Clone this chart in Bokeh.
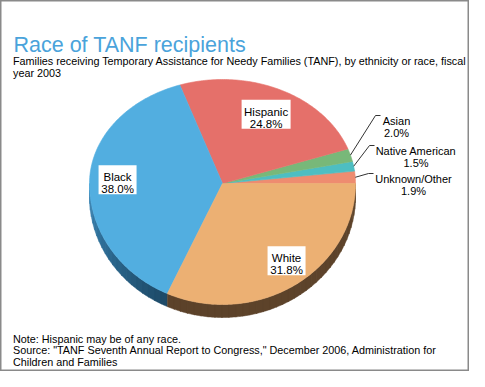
import numpy as np
from bokeh.plotting import figure
from bokeh.models import Range1d
from bokeh.embed import file_html
from bokeh.resources import INLINE
from bokeh.core.properties import value

# ---------------- data ----------------
categories = ["Unknown/Other", "Native American", "Asian", "Hispanic", "Black", "White"]
shares = [1.9, 1.5, 2.0, 24.8, 38.0, 31.8]
pct_labels = ["1.9%", "1.5%", "2.0%", "24.8%", "38.0%", "31.8%"]

title_text = "Race of TANF recipients"
subtitle_lines = [
    "Families receiving Temporary Assistance for Needy Families (TANF), by ethnicity or race, fiscal",
    "year 2003",
]
note_lines = [
    "Note: Hispanic may be of any race.",
    "Source: \"TANF Seventh Annual Report to Congress,\" December 2006, Administration for",
    "Children and Families",
]

# ---------------- styles / layout ----------------
colors = ["#EE8C70", "#4DBEC2", "#78B879", "#E5706A", "#52AEE0", "#ECB073"]
side_colors = [("#E07A60", "#E07A60"), ("#3B9EA2", "#3B9EA2"), ("#5E9A5F", "#5E9A5F"),
               ("#B5524D", "#B5524D"), ("#3A86B6", "#1D4966"), ("#5C422A", "#5E442B")]
FONT = value("Liberation Sans")
CX, CY = 222.0, 183.0
RX, RY_UP, RY_DN = 133.0, 104.0, 121.0
DEPTH = 13.0

# inside labels: x radius factor, y radius factor, box width
inside = {3: (0.75, 0.74, 49), 4: (0.79, 0.74, 38), 5: (0.89, 0.76, 38)}
# outside labels: elbow (x, y) and text centre x
outside = {2: (375, 115, 396), 1: (369, 145, 415.5), 0: (368, 173, 413)}


def ell(t_deg):
    t = np.radians(t_deg)
    s = np.sin(t)
    ry = np.where(s >= 0, RY_UP, RY_DN)
    return CX + RX * np.cos(t), CY - ry * s


def hex2rgb(h):
    return np.array([int(h[i:i + 2], 16) for i in (1, 3, 5)], dtype=float)


def rgb2hex(c):
    return "#%02x%02x%02x" % tuple(int(round(v)) for v in c)


p = figure(width=469, height=371, x_range=Range1d(0, 469), y_range=Range1d(371, 0),
           output_backend="svg", toolbar_location=None, min_border=0)
p.axis.visible = False
p.grid.visible = False
p.background_fill_color = "white"
p.border_fill_color = "white"
p.outline_line_color = "#8a8a8a"
p.outline_line_width = 2

total = float(sum(shares))
bounds = np.concatenate([[0.0], np.cumsum(shares) / total * 360.0])

# ---- 3D side (lower half only) ----
side_xs, side_ys, side_cs = [], [], []
for i in range(len(shares)):
    a0, a1 = max(bounds[i], 180.0), min(bounds[i + 1], 360.0)
    if a1 <= a0:
        continue
    nseg = max(1, int((a1 - a0) / 3))
    edges = np.linspace(a0, a1, nseg + 1)
    c0, c1 = hex2rgb(side_colors[i][0]), hex2rgb(side_colors[i][1])
    for k in range(nseg):
        tt = np.linspace(edges[k], edges[k + 1] + 0.3 if k < nseg - 1 else edges[k + 1], 6)
        x, y = ell(tt)
        side_xs.append(list(x) + list(x[::-1]))
        side_ys.append(list(y) + list((y + DEPTH)[::-1]))
        f = (k + 0.5) / nseg
        side_cs.append(rgb2hex(c0 + (c1 - c0) * f))
p.patches(side_xs, side_ys, fill_color=side_cs, line_color=side_cs, line_width=0.5)

# ---- top face wedges ----
xs, ys = [], []
for i in range(len(shares)):
    tt = np.linspace(bounds[i], bounds[i + 1], max(4, int(shares[i] * 4)))
    x, y = ell(tt)
    xs.append([CX] + list(x))
    ys.append([CY] + list(y))
p.patches(xs, ys, fill_color=colors, line_color=colors, line_width=0.6)

# ---- inside labels ----
for i, (fx, fy, bw) in inside.items():
    mid = (bounds[i] + bounds[i + 1]) / 2
    t = np.radians(mid)
    ry = RY_UP if np.sin(t) >= 0 else RY_DN
    lx = CX + RX * fx * np.cos(t)
    ly = CY - ry * fy * np.sin(t)
    p.rect(x=[lx], y=[ly], width=bw, height=29, fill_color="white", line_color=None)
    p.text(x=[lx], y=[ly - 2.5], text=[categories[i]], text_align="center",
           text_baseline="alphabetic", text_font=FONT, text_font_size="11.5px", text_color="black")
    p.text(x=[lx], y=[ly + 9.5], text=[pct_labels[i]], text_align="center",
           text_baseline="alphabetic", text_font=FONT, text_font_size="11.5px", text_color="black")

# ---- outside labels with leaders ----
lxs, lys = [], []
for i, (ex, ey, tcx) in outside.items():
    mid = (bounds[i] + bounds[i + 1]) / 2
    ax, ay = ell(np.array([mid]))
    lxs.append([float(ax[0]), ex, ex + 5])
    lys.append([float(ay[0]), ey, ey])
    p.text(x=[tcx], y=[ey + 5], text=[categories[i]], text_align="center",
           text_baseline="alphabetic", text_font=FONT, text_font_size="11px", text_color="black")
    p.text(x=[tcx], y=[ey + 17], text=[pct_labels[i]], text_align="center",
           text_baseline="alphabetic", text_font=FONT, text_font_size="11px", text_color="black")
p.multi_line(lxs, lys, line_color="#333333", line_width=1)

# ---- titles and notes ----
p.text(x=[13], y=[44.5], text=[title_text], text_font=FONT, text_font_size="21.5px",
       text_color="#4AA3DB", text_baseline="alphabetic")
p.text(x=[12.5] * 2, y=[60, 72], text=subtitle_lines, text_font=FONT, text_font_size="10.8px",
       text_color="black", text_baseline="alphabetic")
p.text(x=[12.5] * 3, y=[338, 349.5, 361], text=note_lines, text_font=FONT, text_font_size="10.8px",
       text_color="black", text_baseline="alphabetic")

open("out.html", "w").write(file_html(p, INLINE))
